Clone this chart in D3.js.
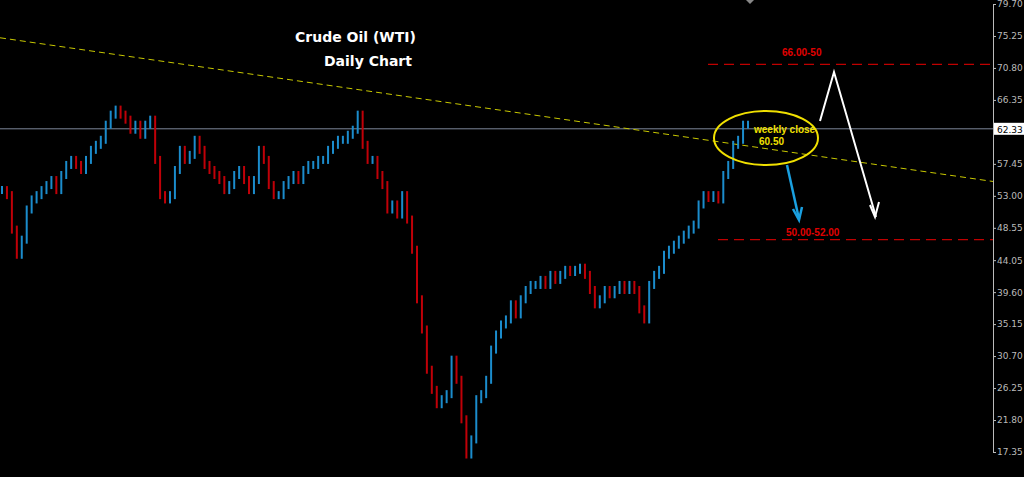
<!DOCTYPE html>
<html><head><meta charset="utf-8">
<script src="https://cdn.jsdelivr.net/npm/d3@7/dist/d3.min.js"></script>
<style>body{margin:0;background:#000;}svg{display:block;}</style>
</head><body>
<svg id="c" width="1024" height="477"></svg>
<script>
const closes=[53.8,53.1,48.3,44.8,46.9,51.1,52.5,53.1,53.8,54.5,55.2,53.8,55.9,57.3,58.0,57.3,56.6,58.0,59.4,60.1,60.8,62.9,64.3,65.0,64.3,63.6,62.2,62.9,61.5,62.9,63.6,58.0,53.1,52.5,53.1,56.6,59.4,58.0,58.7,60.8,59.4,57.3,56.6,55.9,55.2,53.8,54.5,55.9,56.6,55.2,53.8,55.2,59.4,58.0,54.5,53.1,53.1,54.5,55.2,55.9,55.2,56.6,57.3,57.3,58.0,58.0,59.4,60.1,60.8,60.8,61.5,62.2,64.3,60.1,58.0,58.0,55.9,54.5,51.1,51.8,50.4,53.1,49.7,45.5,38.6,34.4,28.8,26.0,24.0,24.7,25.4,30.2,27.4,21.9,17.0,19.1,24.7,25.4,27.4,31.6,33.7,35.1,35.8,37.9,36.5,38.6,39.9,40.6,40.6,41.3,40.6,42.0,41.3,42.0,42.7,42.4,42.7,43.0,42.0,39.9,37.9,38.6,39.9,39.3,39.9,40.6,39.9,40.6,39.9,37.2,35.8,40.6,42.0,42.7,44.8,45.5,46.2,46.9,47.6,48.3,49.0,51.8,53.1,52.7,53.1,52.5,55.9,57.3,60.1,60.8,62.9,62.9];
const ticks=[79.70,75.25,70.80,66.35,57.45,53.00,48.55,44.05,39.60,35.15,30.70,26.25,21.80,17.35];
const lastPrice=62.33;
const resistance=71.3, support=46.9;
const trend=[[0,75.0],[1,55.0]];

const svg=d3.select("#c");
const y=d3.scaleLinear().domain([17.35,79.70]).range([452,4]);
const x=d3.scaleLinear().domain([0,closes.length-1]).range([2,748]);
const ax=993;
svg.append("line").attr("x1",0).attr("x2",ax).attr("y1",y(lastPrice)).attr("y2",y(lastPrice)).attr("stroke","#7c8799").attr("stroke-width",1);
const tx=d3.scaleLinear().domain([0,1]).range([0,ax]);
svg.append("line").attr("x1",tx(trend[0][0])).attr("y1",y(trend[0][1])).attr("x2",tx(trend[1][0])).attr("y2",y(trend[1][1])).attr("stroke","#c8c800").attr("stroke-dasharray","6,4").attr("stroke-width",1);
closes.forEach((c,i)=>{
  const p=i?closes[i-1]:c;
  const hi=Math.max(p,c), lo=Math.min(p,c);
  const up=c>=p, col=up?"#1b8ccc":"#c00008";
  svg.append("line").attr("x1",x(i)).attr("x2",x(i)).attr("y1",y(hi)-4).attr("y2",y(lo)+4).attr("stroke",col).attr("stroke-width",2);
});
svg.append("line").attr("x1",708).attr("x2",ax).attr("y1",y(resistance)).attr("y2",y(resistance)).attr("stroke","#c00000").attr("stroke-dasharray","10,6").attr("stroke-width",1.3);
svg.append("line").attr("x1",718).attr("x2",ax).attr("y1",y(support)).attr("y2",y(support)).attr("stroke","#c00000").attr("stroke-dasharray","10,6").attr("stroke-width",1.3);
svg.append("text").attr("x",782).attr("y",56).text("66.00-50").attr("fill","#e00000").attr("font-family","Liberation Sans").attr("font-weight","bold").attr("font-size",10);
svg.append("text").attr("x",786).attr("y",236).text("50.00-52.00").attr("fill","#e00000").attr("font-family","Liberation Sans").attr("font-weight","bold").attr("font-size",10);
svg.append("ellipse").attr("cx",766).attr("cy",138).attr("rx",52).attr("ry",27).attr("fill","none").attr("stroke","#f0e000").attr("stroke-width",2);
svg.append("text").attr("x",754).attr("y",133).text("weekly close").attr("fill","#f0e000").attr("font-family","Liberation Sans").attr("font-weight","bold").attr("font-size",10);
svg.append("text").attr("x",759).attr("y",145).text("60.50").attr("fill","#f0e000").attr("font-family","Liberation Sans").attr("font-weight","bold").attr("font-size",10);
svg.append("polyline").attr("points","820,121 834,72 876,217").attr("fill","none").attr("stroke","#fff").attr("stroke-width",2);
svg.append("polyline").attr("points","870,205 875,217 879,202").attr("fill","none").attr("stroke","#fff").attr("stroke-width",2);
svg.append("line").attr("x1",787).attr("y1",165).attr("x2",799).attr("y2",219).attr("stroke","#1aa0e0").attr("stroke-width",2.5);
svg.append("polyline").attr("points","793,209 799,220 802,207").attr("fill","none").attr("stroke","#1aa0e0").attr("stroke-width",2.5);
svg.append("path").attr("d","M746,0 L754,0 L750,4 Z").attr("fill","#888");
svg.append("text").attr("x",295).attr("y",42).text("Crude Oil (WTI)").attr("fill","#fff").attr("font-family","DejaVu Sans").attr("font-weight","bold").attr("font-size",14);
svg.append("text").attr("x",324).attr("y",66).text("Daily Chart").attr("fill","#fff").attr("font-family","DejaVu Sans").attr("font-weight","bold").attr("font-size",14);
const g=svg.append("g").attr("transform",`translate(${ax},0)`);
g.call(d3.axisRight(y).tickValues(ticks).tickFormat(d3.format(".2f")).tickSize(3));
g.select(".domain").attr("stroke","#bbb");
g.selectAll(".tick line").attr("stroke","#bbb");
g.selectAll(".tick text").attr("fill","#bbb").attr("font-family","DejaVu Sans").attr("font-size",9).attr("x",4);
const lb=g.append("g").attr("transform",`translate(1,${y(lastPrice)})`);
lb.append("rect").attr("x",0).attr("y",-6).attr("width",30).attr("height",12).attr("fill","#fff");
lb.append("text").attr("x",3).attr("y",4).text(d3.format(".2f")(lastPrice)).attr("fill","#000").attr("font-family","DejaVu Sans").attr("font-size",9);
</script>
</body></html>
